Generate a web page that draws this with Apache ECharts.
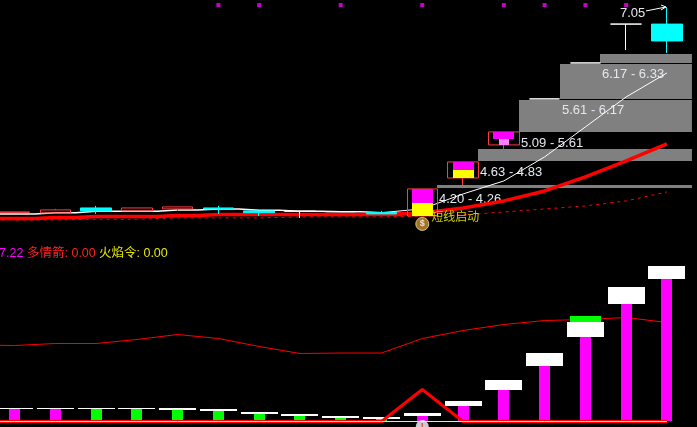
<!DOCTYPE html>
<html><head><meta charset="utf-8">
<style>html,body{margin:0;padding:0;background:#000;overflow:hidden}#c{width:697px;height:427px}</style>
<script src="https://cdn.jsdelivr.net/npm/echarts@6/dist/echarts.min.js"></script>
</head><body><div id="c"></div>
<script>
// Day -1 sits just off the left edge so the lines run in from the border.
const days = ['', 'd0','d1','d2','d3','d4','d5','d6','d7','d8','d9','d10','d11','d12','d13','d14','d15','d16'];

// Price panel: candles [open, close, low, high]
const candleOpen  = [null,3.830,3.821,3.900,3.853,3.885,3.900,3.853,3.848,3.842,3.829,3.774,4.373,4.894,5.620,6.187,6.800,6.800];
const candleClose = [null,3.837,3.869,3.853,3.900,3.916,3.885,3.825,3.848,3.842,3.806,4.200,4.626,5.099,5.620,6.187,6.800,6.534];
const candleLow   = [null,3.830,3.821,3.806,3.853,3.853,3.806,3.774,3.743,3.842,3.806,3.774,4.263,4.830,5.620,6.187,6.390,6.345];
const candleHigh  = [null,3.837,3.885,3.932,3.900,3.916,3.932,3.853,3.848,3.842,3.853,4.200,4.626,5.099,5.620,6.187,6.800,7.070];

const whiteStep  = [3.806,3.806,3.826,3.848,3.848,3.869,3.885,3.864,3.848,3.842,3.826,null,null,null,null,null,null,null];
const whiteCurve = [null,null,null,null,null,null,null,null,null,null,3.826,3.885,4.121,4.326,4.705,5.178,5.651,6.030];
const redStep    = [3.735,3.735,3.751,3.766,3.766,3.782,3.798,3.798,3.798,3.798,3.798,null,null,null,null,null,null,null];
const redCurve   = [null,null,null,null,null,null,null,null,null,null,3.798,3.821,3.900,4.011,4.168,4.389,4.642,4.910];
const redDashed  = [3.711,3.711,3.711,3.722,3.722,3.743,3.743,3.743,3.758,3.758,3.758,3.774,3.790,3.837,3.884,3.932,4.011,4.153];

// Support / target zones: [day index, low, high, caption]
const zoneDay  = [11,12,13,14,15];
const zoneLow  = [4.20,4.63,5.09,5.61,6.17];
const zoneHigh = [4.26,4.83,5.61,6.17,6.33];
const zoneText = ['4.20 - 4.26','4.63 - 4.83','5.09 - 5.61','5.61 - 6.17','6.17 - 6.33'];

const magentaDays = [11,12,13]; const magentaLow = [3.979,4.500,4.989]; const magentaHigh = [4.200,4.626,5.099];
const yellowDays  = [11,12];    const yellowLow  = [3.774,4.373];       const yellowHigh  = [3.979,4.500];
const pinkDays    = [13];       const pinkLow    = [4.894];             const pinkHigh    = [4.989];

const signalDays = [6,7,9,11,13,14,15,16];
const signalLevel = 7.10;
const peakDay = 17, peakPrice = 7.07, peakText = '7.05';

// Lower panel
const capLow  = [null,12,12,12,12,11,10,7,5,3,2,5,15,31,55,84,117,142];
const capHigh = [null,13,13,13,13,13,12,9,7,5,4,8,20,41,68,99,134,155];
const barColorIsUp = [null,1,1,0,0,0,0,0,0,0,0,1,1,1,1,1,1,1];
const lowerLine = [76.5,76,78,78,82,87,83,75,68,68.5,68.5,83,91,97,101,102,104,99];
const trigger   = [0,0,0,0,0,0,0,0,0,0,0,32,0,0,0,0,0,0];
const zeroLine  = [0,0,0,0,0,0,0,0,0,0,0,0,0,0,0,0,0,0];
const greenBlockDay = 15, greenBlockLow = 99, greenBlockHigh = 105;

const legendTexts = ['7.22','多情箭: 0.00','火焰令: 0.00'];
const signalName = '短线启动';

const FONT = '"Liberation Sans","Noto Sans CJK SC",sans-serif';
const RED='#ff0000', SOFT='#ff3c3c';
const snap = (v)=>Math.round(v-0.25);

function rangeSeries(name, axis, rows, color, width, z){
  return {
    name, type:'custom', xAxisIndex:axis, yAxisIndex:axis, z, clip:false,
    data: rows, encode:{x:0,y:[1,2]},
    renderItem(p, api){
      const a = api.coord([api.value(0), api.value(1)]);
      const b = api.coord([api.value(0), api.value(2)]);
      const x = Math.round(a[0]-width/2), y = snap(b[1]), h = Math.max(1,snap(a[1])-y);
      return {type:'rect', shape:{x,y,width,height:h}, style:{fill:color}};
    }
  };
}
const zip = (d,l,h)=>d.map((v,i)=>[v,l[i],h[i]]);
const barsBy = (flag)=>capLow.map((v,i)=>[i,0,v,barColorIsUp[i]]).filter(r=>r[2]!=null && r[3]===flag).map(r=>r.slice(0,3));

const option = {
  backgroundColor:'#000', animation:false,
  grid:[
    {left:-46.67, width:734, top:0, height:239.65, outerBoundsMode:'none', containLabel:false},
    {left:-46.67, width:734, top:260.5, height:167, outerBoundsMode:'none', containLabel:false}
  ],
  xAxis:[
    {type:'category', data:days, gridIndex:0, show:false, boundaryGap:true},
    {type:'category', data:days, gridIndex:1, show:false, boundaryGap:true}
  ],
  yAxis:[
    {type:'value', gridIndex:0, show:false, min:3.4, max:7.18, splitLine:{show:false}},
    {type:'value', gridIndex:1, show:false, min:-6, max:161, splitLine:{show:false}}
  ],
  graphic:[
    {type:'text', x:-1, y:247, z:50, style:{text:legendTexts[0], fill:'#ff00ff', font:'12.5px '+FONT}},
    {type:'text', x:27, y:247, z:50, style:{text:legendTexts[1], fill:'#ff2020', font:'12.5px '+FONT}},
    {type:'text', x:99, y:247, z:50, style:{text:legendTexts[2], fill:'#e6e600', font:'12.5px '+FONT}}
  ],
  series:[
    {
      name:'zones', type:'custom', xAxisIndex:0, yAxisIndex:0, z:1, clip:false,
      data: zoneDay.map((d,i)=>[d,zoneLow[i],zoneHigh[i],zoneText[i]]),
      renderItem(p, api){
        const a = api.coord([api.value(0), api.value(1)]);
        const b = api.coord([api.value(0), api.value(2)]);
        const end = api.coord([17,0])[0]+25;
        const x = Math.round(a[0]+15), y = Math.round(b[1]), h = Math.max(3,Math.round(a[1])-y-1);
        return {type:'group', children:[
          {type:'rect', shape:{x,y,width:end-x,height:h}, style:{fill:'#808080'}},
          {type:'text', z2:30, x:x+2, y:Math.round(a[1])+4, style:{text:zoneText[p.dataIndex], fill:'#e4e8ee', font:'13px '+FONT}}
        ]};
      }
    },
    {name:'whiteStep', type:'line', xAxisIndex:0, yAxisIndex:0, z:3, step:'middle', data:whiteStep, symbol:'none', lineStyle:{color:'#fff',width:1.5}, connectNulls:false},
    {name:'whiteCurve', type:'line', xAxisIndex:0, yAxisIndex:0, z:6, data:whiteCurve, symbol:'none', lineStyle:{color:'#fff',width:1}},
    {name:'redStep', type:'line', xAxisIndex:0, yAxisIndex:0, z:4, step:'middle', data:redStep, symbol:'none', lineStyle:{color:RED,width:3.5}},
    {name:'redCurve', type:'line', xAxisIndex:0, yAxisIndex:0, z:7, data:redCurve, symbol:'none', lineStyle:{color:RED,width:3.5}},
    {name:'redDashed', type:'line', xAxisIndex:0, yAxisIndex:0, z:4, data:redDashed, symbol:'none', lineStyle:{color:RED,width:1,type:[3,4]}},
    {
      name:'candles', type:'candlestick', xAxisIndex:0, yAxisIndex:0, z:8, barWidth:31,
      data: days.map((d,i)=>candleOpen[i]==null?['-','-','-','-']:[candleOpen[i],candleClose[i],candleLow[i],candleHigh[i]]),
      itemStyle:{color:'transparent', color0:'#00ffff', borderColor:SOFT, borderColor0:'#00ffff', borderColorDoji:'#ffffff', borderWidth:1}
    },
    rangeSeries('magenta',0,zip(magentaDays,magentaLow,magentaHigh),'#ff00ff',21,9),
    rangeSeries('yellow',0,zip(yellowDays,yellowLow,yellowHigh),'#ffff00',21,9),
    rangeSeries('pink',0,zip(pinkDays,pinkLow,pinkHigh),'#ff80ff',10,9),
    {
      name:'signals', type:'scatter', xAxisIndex:0, yAxisIndex:0, z:10, symbol:'rect', symbolSize:4,
      data: signalDays.map(d=>[d,signalLevel]), itemStyle:{color:'#ff00ff'}
    },
    {
      name:'peak', type:'custom', xAxisIndex:0, yAxisIndex:0, z:11, clip:false,
      data:[[peakDay,peakPrice]],
      renderItem(p, api){
        const c = api.coord([api.value(0), api.value(1)]);
        const tip=[c[0]-1,c[1]];
        return {type:'group', children:[
          {type:'text', x:c[0]-47, y:c[1], style:{text:peakText, fill:'#e4e8ee', font:'13px '+FONT}},
          {type:'polyline', shape:{points:[[c[0]-21,c[1]+4],tip]}, style:{stroke:'#fff',lineWidth:1,fill:null}},
          {type:'polyline', shape:{points:[[c[0]-6,c[1]-2],tip,[c[0]-6,c[1]+3]]}, style:{stroke:'#fff',lineWidth:1,fill:null}}
        ]};
      }
    },
    {
      name:'start', type:'scatter', xAxisIndex:0, yAxisIndex:0, z:12, symbol:'circle', symbolSize:13,
      data:[[11,3.648]], itemStyle:{color:'#d0902a',borderColor:'#f3e3b0',borderWidth:1},
      label:{show:true, position:'inside', formatter:'$', color:'#fff', fontSize:9, fontWeight:'bold', fontFamily:FONT}
    },
    {
      name:'startText', type:'scatter', xAxisIndex:0, yAxisIndex:0, z:12, symbolSize:0,
      data:[[11,3.745]],
      label:{show:true, position:'right', distance:9, formatter:signalName, color:'#ffff00', fontSize:12, fontFamily:FONT}
    },
    {name:'lowerLine', type:'line', xAxisIndex:1, yAxisIndex:1, z:2, data:lowerLine, symbol:'none', lineStyle:{color:RED,width:1}},
    rangeSeries('upBars',1,barsBy(1),'#ff00ff',11,3),
    rangeSeries('downBars',1,barsBy(0),'#00ff00',11,3),
    rangeSeries('caps',1,capLow.map((v,i)=>[i,v,capHigh[i]]).filter(r=>r[1]!=null),'#ffffff',37,4),
    rangeSeries('greenBlock',1,[[greenBlockDay,greenBlockLow,greenBlockHigh]],'#00ff00',31,4),
    {name:'trigger', type:'line', xAxisIndex:1, yAxisIndex:1, z:5, data:trigger, symbol:'none', lineStyle:{color:RED,width:3}},
    {name:'zero', type:'line', xAxisIndex:1, yAxisIndex:1, z:6, data:zeroLine, symbol:'none', lineStyle:{color:'#ffff00',width:1}},
    {
      name:'startLow', type:'scatter', xAxisIndex:1, yAxisIndex:1, z:7, symbol:'circle', symbolSize:13, clip:false,
      data:[[11,-5]], itemStyle:{color:'#ffffff'},
      label:{show:true, position:'inside', formatter:'!', color:'#e02020', fontSize:9, fontWeight:'bold', fontFamily:FONT}
    }
  ]
};
const chart = echarts.init(document.getElementById('c'),null,{renderer:'canvas'});
chart.setOption(option);
</script></body></html>
